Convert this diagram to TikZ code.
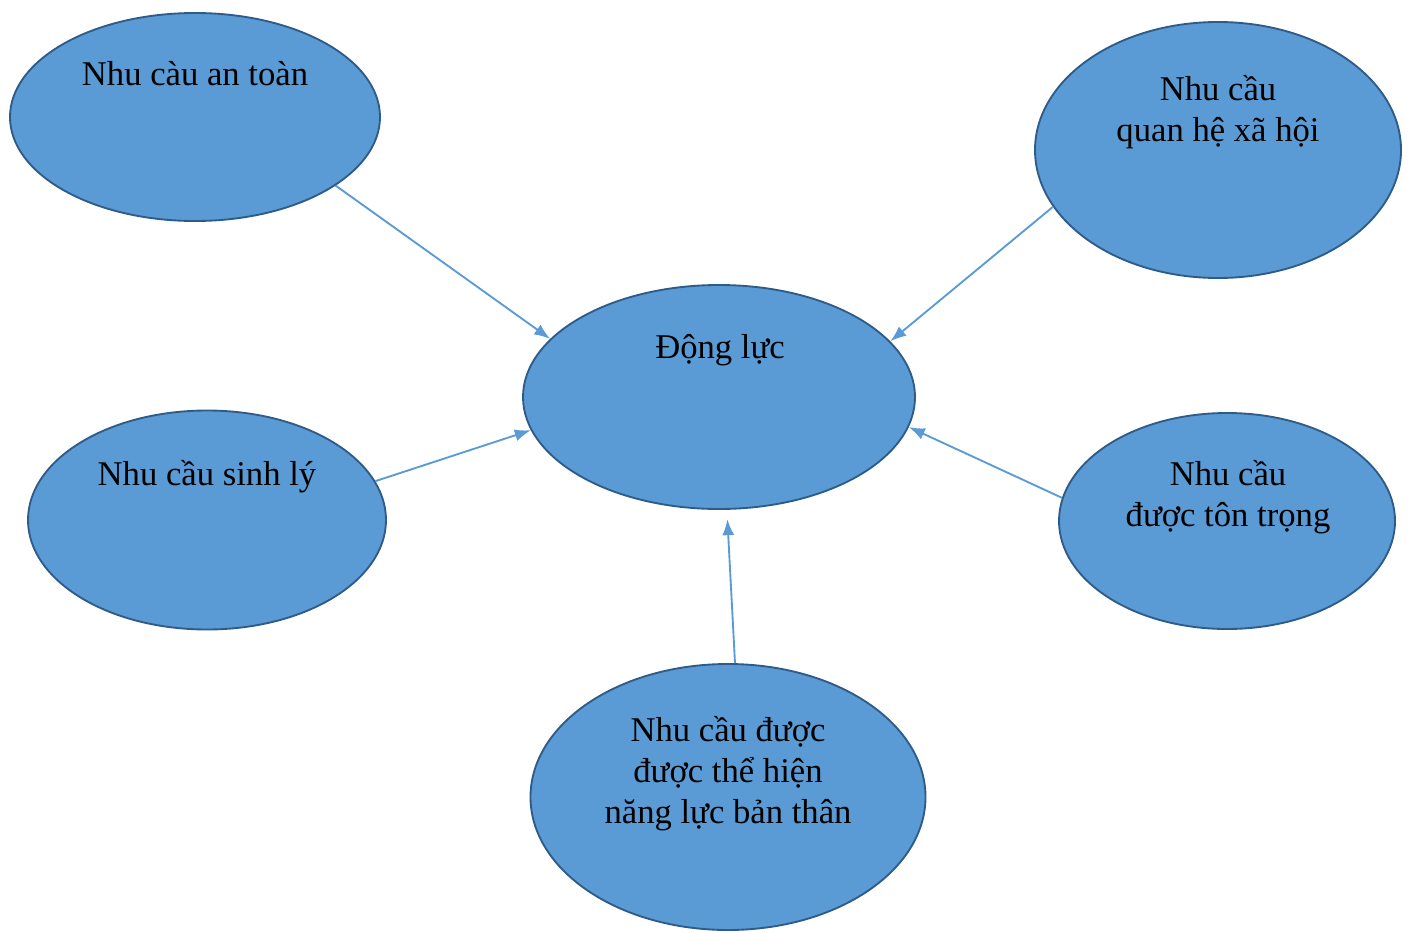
\documentclass[tikz,border=0pt]{standalone}
\usepackage{fontspec}
\setmainfont{Liberation Serif}
\usetikzlibrary{shapes.geometric,arrows.meta}
\definecolor{fillblue}{HTML}{5B9BD5}
\definecolor{edgeblue}{HTML}{2F5B88}
\definecolor{arrowblue}{HTML}{5B9BD5}
\tikzset{
  bubble/.style={ellipse, draw=edgeblue, fill=fillblue, line width=1.4pt, inner sep=0pt},
  label text/.style={font=\fontsize{26}{30.5}\selectfont, align=center, anchor=base, inner sep=0pt},
  link/.style={draw=arrowblue, line width=1.4pt, -{Latex[length=12pt,width=9pt]}}
}
\begin{document}
\begin{tikzpicture}[x=0.75pt,y=-0.75pt]
\useasboundingbox (0,0) rectangle (1412,932);
\node[bubble, minimum width={370*0.75pt}, minimum height={208*0.75pt}] (e1) at (195,117) {};
\node[bubble, minimum width={366*0.75pt}, minimum height={256*0.75pt}] (e2) at (1218,150) {};
\node[bubble, minimum width={392*0.75pt}, minimum height={224*0.75pt}] (e3) at (719,397) {};
\node[bubble, minimum width={358*0.75pt}, minimum height={219*0.75pt}] (e4) at (207,520) {};
\node[bubble, minimum width={336*0.75pt}, minimum height={216*0.75pt}] (e5) at (1227,521) {};
\node[bubble, minimum width={395*0.75pt}, minimum height={266*0.75pt}] (e6) at (728,797) {};

\node[label text] (t1) at (195,85) {Nhu càu an toàn};
\node[label text] (t2) at (1218,141) {Nhu cầu\\quan hệ xã hội};
\node[label text] (t3) at (720,358) {Động lực};
\node[label text] (t4) at (207,485) {Nhu cầu sinh lý};
\node[label text] (t5) at (1228,526) {Nhu cầu\\được tôn trọng};
\node[label text] (t6) at (728,823) {Nhu cầu được\\được thể hiện\\năng lực bản thân};

\draw[link] (e1.-26.4) -- (e3.161);
\draw[link] (e2.-161.5) -- (e3.18.1);
\draw[link] (e4.13.5) -- (e3.190.2);
\draw[link] (e5.172.9) -- (e3.-9.6);
\draw[link, shorten >=7pt] (e6.87) -- (e3.-86);
\end{tikzpicture}
\end{document}
